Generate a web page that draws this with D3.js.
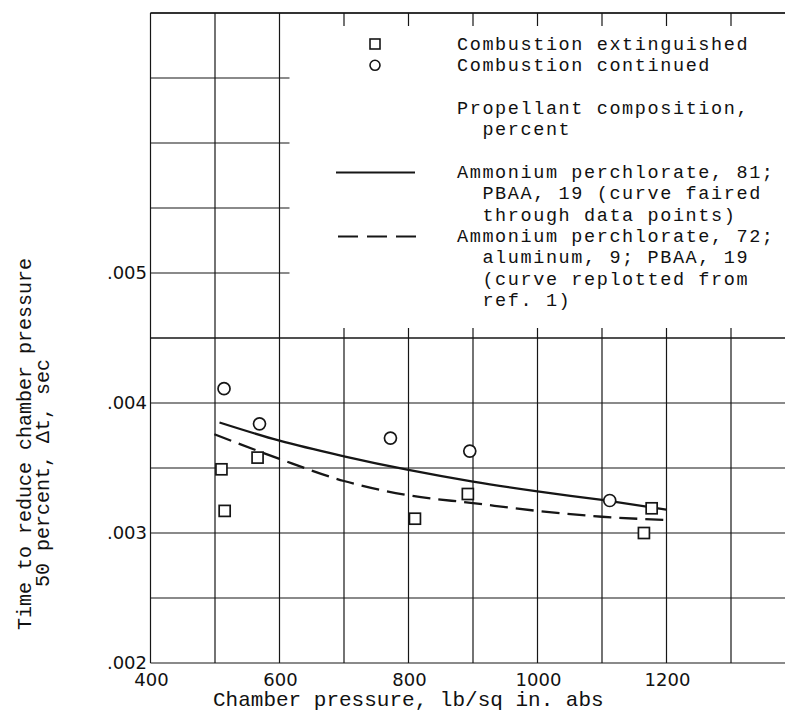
<!DOCTYPE html>
<html>
<head>
<meta charset="utf-8">
<script src="https://cdn.jsdelivr.net/npm/d3@7"></script>
<style>
  body { margin: 0; background: #fff; }
  svg { display: block; }
  text { font-family: "Liberation Mono", "DejaVu Sans Mono", monospace; fill: #111; }
</style>
</head>
<body>
<div id="chart"></div>
<script>
// Data
const extinguishedP = [510, 515, 566, 810, 892, 1165, 1177];
const extinguishedT = [0.00349, 0.00317, 0.00358, 0.00311, 0.00330, 0.00300, 0.00319];
const continuedP = [514, 569, 772, 895, 1112];
const continuedT = [0.00411, 0.00384, 0.00373, 0.00363, 0.00325];

// curve faired through data points (AP 81, PBAA 19)
const fairedP = [507, 600, 700, 800, 900, 1000, 1100, 1200];
const fairedT = [0.00385, 0.00371, 0.00359, 0.003485, 0.003395, 0.00332, 0.003254, 0.00318];
// curve replotted from ref. 1 (AP 72, Al 9, PBAA 19)
const replotP = [499, 600, 700, 800, 900, 1000, 1100, 1200];
const replotT = [0.00376, 0.00357, 0.00340, 0.00329, 0.00323, 0.00317, 0.003125, 0.0031];

const xTickLabels = [400, 600, 800, 1000, 1200];
const yTickLabels = [0.002, 0.003, 0.004, 0.005];

const legendLines = [
  ["Combustion extinguished", 0],
  ["Combustion continued", 0],
  ["Propellant composition,", 0],
  ["percent", 1],
  ["Ammonium perchlorate, 81;", 0],
  ["PBAA, 19 (curve faired", 1],
  ["through data points)", 1],
  ["Ammonium perchlorate, 72;", 0],
  ["aluminum, 9; PBAA, 19", 1],
  ["(curve replotted from", 1],
  ["ref. 1)", 1]
];
const legendY = [44, 65.3, 108.5, 129.8, 172.5, 193.8, 215.1, 236.4, 257.7, 279, 300.3];

const width = 785, height = 711;

const svg = d3.select("#chart").append("svg")
  .attr("width", width)
  .attr("height", height);

const x = d3.scaleLinear().domain([400, 1400]).range([150.5, 795.5]);
const y = d3.scaleLinear().domain([0.002, 0.007]).range([663, 13]);

const ink = "#161616";

// grid
const grid = svg.append("g").attr("stroke", ink).attr("stroke-width", 1.2);
grid.selectAll("line.v")
  .data(d3.range(400, 1401, 100))
  .join("line")
  .attr("x1", d => x(d)).attr("x2", d => x(d))
  .attr("y1", y(0.002)).attr("y2", y(0.007));
grid.selectAll("line.h")
  .data(d3.range(0.002, 0.00701, 0.0005))
  .join("line")
  .attr("x1", x(400)).attr("x2", x(1400))
  .attr("y1", d => y(d)).attr("y2", d => y(d));

// blank area behind the legend (grid stubs left at its edges)
svg.append("rect")
  .attr("x", x(600) + 10)
  .attr("y", y(0.007) + 13)
  .attr("width", x(1400) - x(600) - 20)
  .attr("height", y(0.0045) - y(0.007) - 23)
  .attr("fill", "#fff");

// frame lines on top
svg.append("line").attr("x1", x(400)).attr("x2", x(1400))
  .attr("y1", y(0.007)).attr("y2", y(0.007))
  .attr("stroke", ink).attr("stroke-width", 1.3);
svg.append("line").attr("x1", x(400)).attr("x2", x(1400))
  .attr("y1", y(0.0045)).attr("y2", y(0.0045))
  .attr("stroke", ink).attr("stroke-width", 1.2);

// tick labels
svg.append("g")
  .selectAll("text")
  .data(xTickLabels)
  .join("text")
  .attr("x", d => x(d) + 1)
  .attr("y", 686)
  .attr("text-anchor", "middle")
  .style("font-family", "'DejaVu Sans', sans-serif")
  .style("font-size", "18px")
  .text(d => d);

svg.append("g")
  .selectAll("text")
  .data(yTickLabels)
  .join("text")
  .attr("x", 147)
  .attr("y", d => y(d) + 6)
  .attr("text-anchor", "end")
  .style("font-family", "'DejaVu Sans', sans-serif")
  .style("font-size", "18px")
  .text(d => d3.format(".3f")(d).replace(/^0/, ""));

// axis titles
svg.append("text")
  .attr("x", 213)
  .attr("y", 706)
  .style("font-size", "21px")
  .text("Chamber pressure, lb/sq in. abs");

svg.append("text")
  .attr("transform", "translate(31,630) rotate(-90)")
  .style("font-size", "20px")
  .text("Time to reduce chamber pressure");
svg.append("text")
  .attr("transform", "translate(49,587) rotate(-90)")
  .style("font-size", "20px")
  .text("50 percent, \u0394t, sec");

// curves
const line = (ps, ts) => d3.line()
  .x(i => x(ps[i]))
  .y(i => y(ts[i]))
  .curve(d3.curveMonotoneX)(d3.range(ps.length));

svg.append("path")
  .attr("d", line(fairedP, fairedT))
  .attr("fill", "none")
  .attr("stroke", ink)
  .attr("stroke-width", 2.3);

svg.append("path")
  .attr("d", line(replotP, replotT))
  .attr("fill", "none")
  .attr("stroke", ink)
  .attr("stroke-width", 2.3)
  .attr("stroke-dasharray", "18,8");

// data points
const sq = 11;
svg.append("g")
  .selectAll("rect")
  .data(d3.range(extinguishedP.length))
  .join("rect")
  .attr("x", i => x(extinguishedP[i]) - sq / 2)
  .attr("y", i => y(extinguishedT[i]) - sq / 2)
  .attr("width", sq).attr("height", sq)
  .attr("fill", "#fff")
  .attr("stroke", ink)
  .attr("stroke-width", 1.7);

svg.append("g")
  .selectAll("circle")
  .data(d3.range(continuedP.length))
  .join("circle")
  .attr("cx", i => x(continuedP[i]))
  .attr("cy", i => y(continuedT[i]))
  .attr("r", 6)
  .attr("fill", "#fff")
  .attr("stroke", ink)
  .attr("stroke-width", 1.7);

// legend
const legend = svg.append("g");
legend.append("rect")
  .attr("x", 375 - 5).attr("y", legendY[0] - 5)
  .attr("width", 10).attr("height", 10)
  .attr("fill", "none").attr("stroke", ink).attr("stroke-width", 1.6);
legend.append("circle")
  .attr("cx", 375).attr("cy", legendY[1])
  .attr("r", 5)
  .attr("fill", "none").attr("stroke", ink).attr("stroke-width", 1.6);
legend.append("line")
  .attr("x1", 336).attr("x2", 415)
  .attr("y1", legendY[4]).attr("y2", legendY[4])
  .attr("stroke", ink).attr("stroke-width", 2);
legend.append("line")
  .attr("x1", 338).attr("x2", 416)
  .attr("y1", legendY[7]).attr("y2", legendY[7])
  .attr("stroke", ink).attr("stroke-width", 2)
  .attr("stroke-dasharray", "20,9");

legend.selectAll("text")
  .data(legendLines)
  .join("text")
  .attr("x", d => 457 + d[1] * 25.4)
  .attr("y", (d, i) => legendY[i] + 5.5)
  .style("font-size", "18.5px")
  .style("letter-spacing", "1.6px")
  .text(d => d[0]);
</script>
</body>
</html>
